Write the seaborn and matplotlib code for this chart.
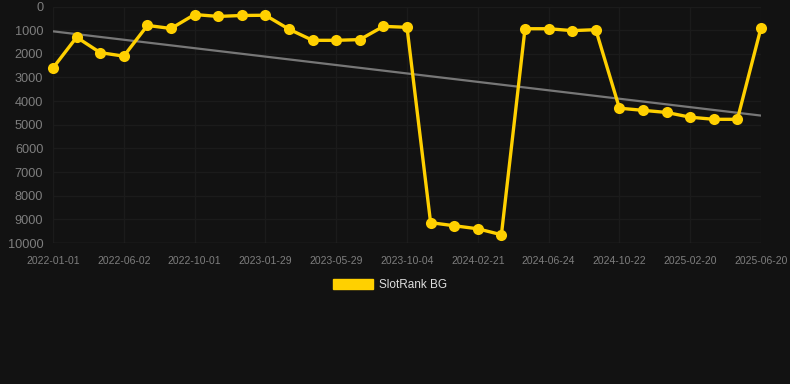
import numpy as np
import pandas as pd
import matplotlib
matplotlib.use("Agg")
import matplotlib.pyplot as plt
import matplotlib.patches as mpatches
import seaborn as sns

dates = ["2022-01-01", "2022-02-20", "2022-04-11", "2022-06-02", "2022-07-12", "2022-08-21",
         "2022-10-01", "2022-11-10", "2022-12-20", "2023-01-29", "2023-03-10", "2023-04-19",
         "2023-05-29", "2023-07-10", "2023-08-22", "2023-10-04", "2023-11-19", "2024-01-05",
         "2024-02-21", "2024-04-02", "2024-05-13", "2024-06-24", "2024-08-03", "2024-09-12",
         "2024-10-22", "2024-12-01", "2025-01-10", "2025-02-20", "2025-04-01", "2025-05-11",
         "2025-06-20"]
ranks = [2600, 1300, 1950, 2100, 800, 930, 340, 420, 380, 370, 960, 1430, 1430, 1400, 840, 880,
         9140, 9270, 9400, 9650, 940, 940, 1020, 980, 4300, 4390, 4480, 4680, 4770, 4770, 900]
series_name = "SlotRank BG"

bg = "#121212"
gold = "#FFD000"

sns.set_theme(style="dark")
plt.rcParams["font.family"] = ["Liberation Sans", "DejaVu Sans"]

df = pd.DataFrame({"idx": np.arange(len(dates)), "date": dates, "rank": ranks})

fig = plt.figure(figsize=(7.9, 3.84), dpi=100, facecolor=bg)
ax = fig.add_axes([53/790, 1 - 243/384, (761-53)/790, (243-6.5)/384])
ax.set_facecolor(bg)

# trend line
coef = np.polyfit(df["idx"], df["rank"], 1)
df["trend"] = np.polyval(coef, df["idx"])
sns.lineplot(data=df, x="idx", y="trend", ax=ax, color="#777777", linewidth=1.6, zorder=2)

sns.lineplot(data=df, x="idx", y="rank", ax=ax, color=gold, linewidth=2.4,
             marker="o", markersize=8, markeredgewidth=0, zorder=3, clip_on=False)

ax.set_xlim(0, len(dates) - 1)
ax.set_ylim(10000, 0)
ax.set_yticks(np.arange(0, 10001, 1000))
ax.set_yticklabels([str(v) for v in range(0, 10001, 1000)])
tick_idx = list(range(0, len(dates), 3))
ax.set_xticks(tick_idx)
ax.set_xticklabels([dates[i] for i in tick_idx])
ax.tick_params(axis="y", colors="#7e7e7e", labelsize=9.2, length=0, pad=7)
ax.tick_params(axis="x", colors="#7e7e7e", labelsize=7.5, length=0, pad=9)
ax.grid(True, color="#1b1b1b", linewidth=0.9)
ax.set_xlabel("")
ax.set_ylabel("")
for s in ax.spines.values():
    s.set_visible(False)
ax.axhline(10000, color="#2c2c2c", linewidth=1, zorder=1)

handle = mpatches.Patch(facecolor=gold, edgecolor=gold, label=series_name)
leg = fig.legend(handles=[handle], loc="center", bbox_to_anchor=(390/790, 1 - 285/384),
                 frameon=False, fontsize=8.5, handlelength=3.4, handleheight=0.95,
                 handletextpad=0.5)
for t in leg.get_texts():
    t.set_color("#dddddd")

fig.savefig("out.png", dpi=100, facecolor=bg)
